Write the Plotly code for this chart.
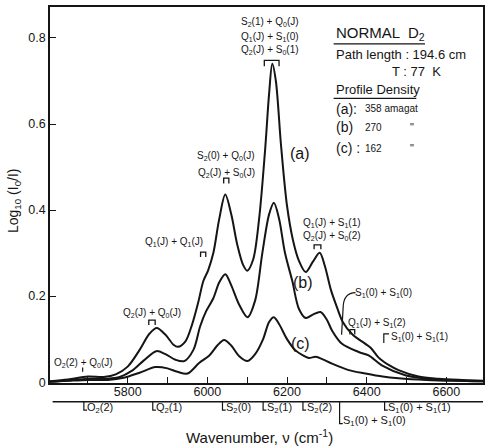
import plotly.graph_objects as go

# Absorption profiles of normal D2 in the first overtone region (77 K, 194.6 cm path)
nu_a = [5605, 5650, 5700, 5740, 5770, 5800, 5830, 5855, 5873, 5895, 5915, 5926, 5945,
        5962, 5977, 5990, 6002, 6015, 6030, 6045, 6060, 6075, 6090, 6100, 6115, 6130,
        6145, 6155, 6163, 6172, 6185, 6200, 6215, 6230, 6247, 6265, 6282, 6295, 6310,
        6325, 6340, 6365, 6395, 6410, 6430, 6455, 6480, 6530, 6580, 6640, 6692]
abs_a = [0.002, 0.006, 0.013, 0.012, 0.018, 0.036, 0.075, 0.113, 0.126, 0.110, 0.087, 0.082, 0.095,
         0.135, 0.185, 0.235, 0.260, 0.300, 0.380, 0.436, 0.390, 0.320, 0.272, 0.259, 0.285, 0.380,
         0.540, 0.670, 0.740, 0.700, 0.550, 0.410, 0.330, 0.282, 0.256, 0.280, 0.301, 0.270, 0.215,
         0.175, 0.140, 0.110, 0.090, 0.080, 0.057, 0.040, 0.028, 0.013, 0.008, 0.005, 0.003]

nu_b = [5605, 5650, 5700, 5750, 5780, 5810, 5840, 5872, 5895, 5920, 5942, 5965, 5982,
        5997, 6015, 6030, 6045, 6060, 6080, 6101, 6120, 6138, 6155, 6167, 6180, 6195,
        6213, 6230, 6247, 6265, 6284, 6300, 6313, 6338, 6380, 6405, 6438, 6497, 6550,
        6620, 6692]
abs_b = [0.001, 0.004, 0.008, 0.008, 0.012, 0.026, 0.050, 0.072, 0.065, 0.052, 0.049, 0.075, 0.130,
         0.165, 0.195, 0.232, 0.251, 0.225, 0.180, 0.151, 0.190, 0.300, 0.390, 0.417, 0.380, 0.300,
         0.236, 0.170, 0.149, 0.157, 0.163, 0.145, 0.120, 0.089, 0.070, 0.062, 0.039, 0.016, 0.008,
         0.004, 0.002]

nu_c = [5605, 5650, 5700, 5750, 5790, 5830, 5870, 5900, 5925, 5950, 5980, 6005, 6025,
        6042, 6060, 6080, 6101, 6120, 6140, 6155, 6167, 6180, 6200, 6220, 6240, 6255,
        6272, 6290, 6313, 6355, 6397, 6440, 6480, 6550, 6620, 6692]
abs_c = [0.001, 0.003, 0.005, 0.005, 0.010, 0.022, 0.035, 0.032, 0.024, 0.020, 0.045, 0.062, 0.085,
         0.098, 0.085, 0.060, 0.049, 0.065, 0.100, 0.140, 0.151, 0.135, 0.100, 0.075, 0.062, 0.056,
         0.059, 0.053, 0.043, 0.028, 0.020, 0.013, 0.009, 0.005, 0.003, 0.002]

# Positions of individual transitions marked under the axis
line_pos = [5690, 5863, 6038, 6140, 6240, 6332, 6445]
line_lbl = ["O<sub>2</sub>(2)", "Q<sub>2</sub>(1)", "S<sub>2</sub>(0)", "S<sub>2</sub>(1)",
            "S<sub>2</sub>(2)", "S<sub>1</sub>(0) + S<sub>1</sub>(0)", "S<sub>1</sub>(0) + S<sub>1</sub>(1)"]
line_long = [False, False, False, False, False, True, False]

x_ticks = [5800, 6000, 6200, 6400, 6600]
y_ticks = [0, 0.2, 0.4, 0.6, 0.8]

FONT = "Liberation Sans"
INK = "#151515"

fig = go.Figure()
for nu, ab in [(nu_a, abs_a), (nu_b, abs_b), (nu_c, abs_c)]:
    fig.add_trace(go.Scatter(x=nu, y=ab, mode="lines",
                             line=dict(color=INK, width=2, shape="spline", smoothing=0.9),
                             showlegend=False, hoverinfo="skip"))

ann = []
shapes = []


def txt(x, y, s, size=10, xanchor="center", xref="x", yref="y", **kw):
    ann.append(dict(x=x, y=y, text=s, xref=xref, yref=yref, showarrow=False,
                    xanchor=xanchor, yanchor="middle",
                    font=dict(family=FONT, size=size, color=INK), **kw))


def bracket(x0, x1, y0, y1):
    shapes.append(dict(type="path", xref="x", yref="y",
                       path=f"M {x0},{y1} L {x0},{y0} L {x1},{y0} L {x1},{y1}",
                       line=dict(color=INK, width=1.3)))


# Peak assignments
txt(6157, 0.837, "S<sub>2</sub>(1) + Q<sub>0</sub>(J)")
txt(6157, 0.803, "Q<sub>1</sub>(J) + S<sub>1</sub>(0)")
txt(6157, 0.771, "Q<sub>2</sub>(J) + S<sub>0</sub>(1)")
bracket(6143, 6180, 0.748, 0.734)

txt(6047, 0.526, "S<sub>2</sub>(0) + Q<sub>0</sub>(J)")
txt(6047, 0.487, "Q<sub>2</sub>(J) + S<sub>0</sub>(J)")
bracket(6041, 6054, 0.474, 0.462)

txt(5917, 0.325, "Q<sub>1</sub>(J) + Q<sub>1</sub>(J)")
bracket(5983, 5996, 0.302, 0.291)

txt(5860, 0.161, "Q<sub>2</sub>(J) + Q<sub>0</sub>(J)")
bracket(5853, 5869, 0.144, 0.133)

txt(5690, 0.045, "O<sub>2</sub>(2) + Q<sub>0</sub>(J)")
shapes.append(dict(type="line", xref="x", yref="y", x0=5687, x1=5687, y0=0.034, y1=0.024,
                   line=dict(color=INK, width=1.2)))

txt(6312, 0.369, "Q<sub>1</sub>(J) + S<sub>1</sub>(1)")
txt(6312, 0.339, "Q<sub>2</sub>(J) + S<sub>0</sub>(2)")
bracket(6268, 6285, 0.319, 0.309)

txt(6442, 0.208, "S<sub>1</sub>(0) + S<sub>1</sub>(0)")
shapes.append(dict(type="path", xref="x", yref="y",
                   path="M 6372,0.208 Q 6342,0.207 6341,0.175 L 6337,0.110",
                   line=dict(color=INK, width=1.2)))

txt(6427, 0.137, "Q<sub>1</sub>(J) + S<sub>1</sub>(2)")
bracket(6358, 6370, 0.122, 0.111)

txt(6532, 0.105, "S<sub>1</sub>(0) + S<sub>1</sub>(1)")
shapes.append(dict(type="path", xref="x", yref="y",
                   path="M 6456,0.112 L 6443,0.112 L 6443,0.091",
                   line=dict(color=INK, width=1.2)))

txt(6232, 0.532, "(a)", size=16)
txt(6240, 0.231, "(b)", size=16)
txt(6234, 0.090, "(c)", size=16)

# Sample description block
txt(0.655, 0.929, "NORMAL  D<sub>2</sub>", size=15, xanchor="left", xref="paper", yref="paper")
shapes.append(dict(type="line", xref="paper", yref="paper", x0=0.655, x1=0.866, y0=0.902, y1=0.902,
                   line=dict(color=INK, width=1.3)))
txt(0.655, 0.873, "Path length : 194.6 cm", size=13, xanchor="left", xref="paper", yref="paper")
txt(0.786, 0.828, "T : 77  K", size=13, xanchor="left", xref="paper", yref="paper")
txt(0.655, 0.780, "Profile Density", size=13, xanchor="left", xref="paper", yref="paper")
shapes.append(dict(type="line", xref="paper", yref="paper", x0=0.655, x1=0.846, y0=0.757, y1=0.757,
                   line=dict(color=INK, width=1.3)))
dens_tag = ["(a):", "(b)", "(c) :"]
dens_val = ["358 amagat", "270", "162"]
dens_y = [0.730, 0.680, 0.624]
for i in range(3):
    txt(0.655, dens_y[i], dens_tag[i], size=14, xanchor="left", xref="paper", yref="paper")
    txt(0.724, dens_y[i], dens_val[i], size=10, xanchor="left", xref="paper", yref="paper")
    if i > 0:
        txt(0.826, dens_y[i], "\"", size=11, xanchor="left", xref="paper", yref="paper")

# Transition markers under the axis
bar_y = -0.050
shapes.append(dict(type="line", xref="paper", yref="paper", x0=0.006, x1=1.0, y0=bar_y, y1=bar_y,
                   line=dict(color=INK, width=1.5)))
for pos, lbl, lng in zip(line_pos, line_lbl, line_long):
    y_end = -0.108 if lng else -0.072
    shapes.append(dict(type="path", xref="x", yref="paper",
                       path=f"M {pos},{bar_y} L {pos},{y_end} L {pos + 8},{y_end}",
                       line=dict(color=INK, width=1.2)))
    txt(pos + 4, y_end + 0.006, lbl, size=11, xanchor="left", yref="paper")

# Axis titles
txt(-0.083, 0.484, "Log<sub>10</sub> (I<sub>0</sub>/I)", size=14, xref="paper", yref="paper",
    textangle=-90)
txt(0.483, -0.143, "Wavenumber, \u03bd (cm<sup>-1</sup>)", size=15, xref="paper", yref="paper")

fig.update_layout(
    width=490, height=448,
    margin=dict(l=50, r=5, t=5, b=65),
    paper_bgcolor="white", plot_bgcolor="white",
    annotations=ann, shapes=shapes,
    font=dict(family=FONT, color=INK),
    xaxis=dict(range=[5605, 6692], tickvals=x_ticks, ticks="inside", ticklen=6, tickwidth=1.3,
               tickcolor=INK, showline=True, linecolor=INK, linewidth=1.6, mirror=True,
               showgrid=False, zeroline=False, tickfont=dict(size=12.5, family=FONT),
               ticklabelstandoff=-4,
               minor=dict(dtick=100, ticks="inside", ticklen=6, tickcolor=INK, tickwidth=1.3)),
    yaxis=dict(range=[-0.002, 0.872], tickvals=y_ticks, ticktext=["0", "0.2", "0.4", "0.6", "0.8"],
               ticks="inside", ticklen=6, tickwidth=1.3, tickcolor=INK,
               showline=True, linecolor=INK, linewidth=1.6, mirror=True,
               showgrid=False, zeroline=False, tickfont=dict(size=12.5, family=FONT)),
)

fig.write_html("out.html")
